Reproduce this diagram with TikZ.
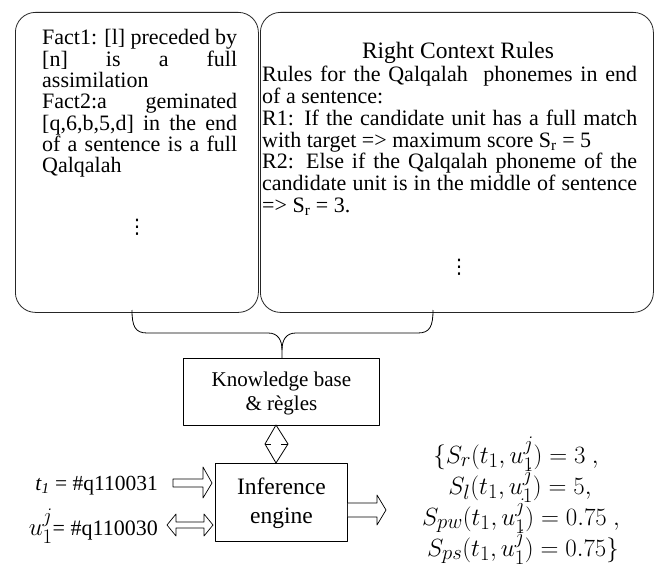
\documentclass[tikz,border=0pt]{standalone}
\usepackage{fontspec}
\setmainfont{Liberation Serif}
\newfontfamily\symfont{DejaVu Sans}
\usepackage{amsmath}
\usetikzlibrary{calc}
\begin{document}
\begin{tikzpicture}[x=1pt,y=-1pt,line join=round]
\tikzset{
  rbox/.style={draw=black!85, rounded corners=20pt, line width=0.8pt, inner sep=0pt},
  sbox/.style={draw, line width=0.8pt, inner sep=0pt},
  barrow/.style={draw, line width=0.7pt, fill=white},
  bodytext/.style={inner sep=0pt, font=\fontsize{22}{21.5}\selectfont},
  bigtext/.style={inner sep=0pt, font=\fontsize{22}{26}\selectfont, align=center},
  mathtext/.style={inner sep=0pt, font=\fontsize{24.88}{28}\selectfont},
  dotstext/.style={inner sep=0pt, font=\symfont\fontsize{20}{20}\selectfont}
}
\useasboundingbox (0,0) rectangle (659,583);
\fill[white] (0,0) rectangle (659,583);

% boxes
\node[rbox, anchor=north west, minimum width=243pt, minimum height=300pt] (facts) at (15,12) {};
\node[rbox, anchor=north west, minimum width=393pt, minimum height=300pt] (rules) at (260,12) {};
\node[sbox, anchor=north west, minimum width=196pt, minimum height=67pt] (kb) at (183,358) {};
\node[sbox, anchor=north west, minimum width=132pt, minimum height=78pt] (inf) at (215,463) {};

% left box text
\node[bodytext, anchor=base west] (factstext) at (42,45) {\parbox[t]{195pt}{\fontsize{22}{21.3}\selectfont
\makebox[\linewidth][s]{Fact1: [l] preceded by}\\
\makebox[\linewidth][s]{[n] is a full}\\
assimilation\\
\makebox[\linewidth][s]{Fact2:a geminated}\\
\makebox[\linewidth][s]{[q,6,b,5,d] in the end}\\
\makebox[\linewidth][s]{of a sentence is a full}\\
Qalqalah}};
\node[dotstext] (fdots) at (137,227) {⋮};

% right box text
\node[inner sep=0pt, font=\fontsize{23.5}{26}\selectfont, anchor=base] (rtitle) at (458,59) {Right Context Rules};
\node[bodytext, anchor=base west] (rulestext) at (262,82) {\parbox[t]{375pt}{\fontsize{22}{21.7}\selectfont
\makebox[\linewidth][s]{Rules for the Qalqalah\ \ phonemes in end}\\
of a sentence:\\
\makebox[\linewidth][s]{R1: If the candidate unit has a full match}\\
with target => maximum score S\textsubscript{r} = 5\\
\makebox[\linewidth][s]{R2: Else if the Qalqalah phoneme of the}\\
\makebox[\linewidth][s]{candidate unit is in the middle of sentence}\\
=> S\textsubscript{r} = 3.}};
\node[dotstext] (rdots) at (459,267) {⋮};

% box texts
\node[bigtext, font=\fontsize{21}{24}\selectfont] (kbtext) at ($(kb.center)+(0,2)$) {Knowledge base\\ \& règles};
\node[bigtext, font=\fontsize{23.5}{29}\selectfont] (inftext) at ($(inf.center)+(0,1)$) {Inference\\ engine};

% brace
\draw[line width=0.8pt] (132,310) .. controls (132,326) and (135,333) .. (147,333)
  -- (268,333) .. controls (278,333) and (282,340) .. (282,350) -- (282,358);
\draw[line width=0.8pt] (433,310) .. controls (433,326) and (430,333) .. (418,333)
  -- (296,333) .. controls (286,333) and (282,340) .. (282,350);

% diamond double arrow
\coordinate (dtop) at (276,425);
\coordinate (dbot) at (276,463);
\draw[line width=0.8pt] (dtop) -- (265,444) -- (dbot) -- (288,444) -- cycle;
\draw[line width=0.8pt] (265,444) -- (271,444) (281,444) -- (288,444);

% labels
\node[inner sep=0pt, font=\fontsize{21.5}{24}\selectfont, anchor=base east] (tlab) at (158,490) {\textit{t}\textsubscript{\textit{1}} = \#q110031};
\node[inner sep=0pt, font=\fontsize{22}{24}\selectfont, anchor=base east] (ulab) at (158,535) {{\fontsize{24.88}{28}\selectfont$u_1^j$}= \#q110030};

% input arrows
\draw[barrow] (173,479) -- (203,479) -- (203,467) -- (212,483) -- (203,498) -- (203,487) -- (173,487) -- cycle;
\draw[barrow] (167,525) -- (176,514) -- (176,522) -- (204,522) -- (204,514) -- (213,525) -- (204,536) -- (204,528) -- (176,528) -- (176,536) -- cycle;

% output arrow
\draw[barrow] (inf.east |- 0,503) -- (377,503) -- (377,495) -- (386,510) -- (377,525) -- (377,517) -- (inf.east |- 0,517);

% results
\node[mathtext, anchor=base] (m1) at (516,463) {$\{S_r(t_1,u_1^j)=3\ ,$};
\node[mathtext, anchor=base] (m2) at (520,494) {$S_l(t_1,u_1^j)=5,$};
\node[mathtext, anchor=base] (m3) at (521,525) {$S_{pw}(t_1,u_1^j)=0.75\ ,$};
\node[mathtext, anchor=base] (m4) at (523,556) {$S_{ps}(t_1,u_1^j)=0.75\}$};
\end{tikzpicture}
\end{document}
